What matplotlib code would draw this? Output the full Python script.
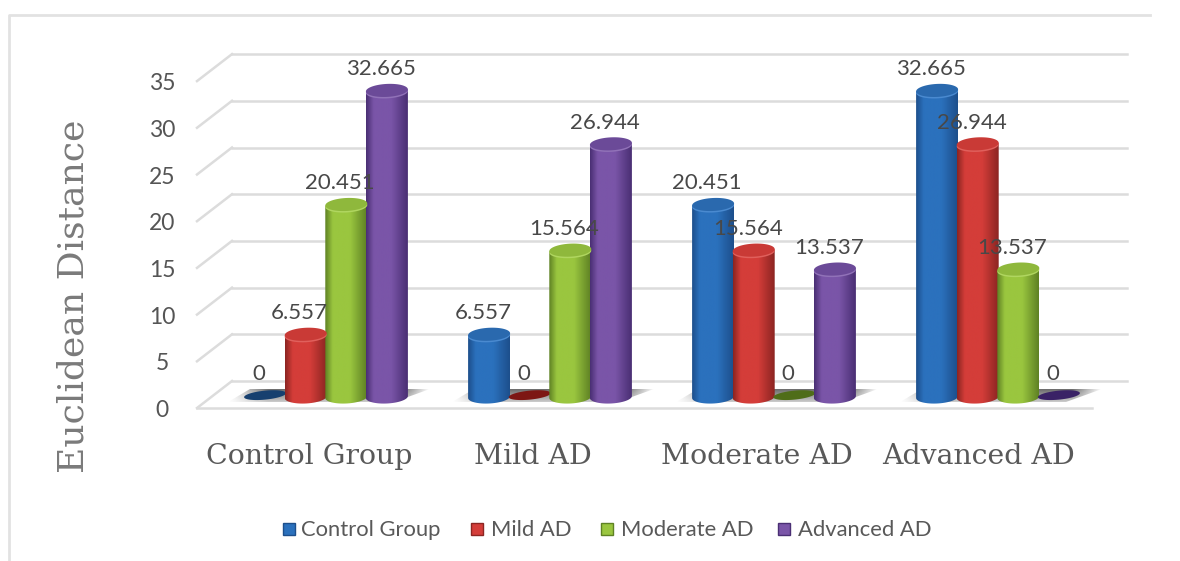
import numpy as np
import matplotlib
matplotlib.use('Agg')
from matplotlib import pyplot as plt
from matplotlib.colors import LinearSegmentedColormap
from matplotlib.patches import Polygon, Rectangle

categories = ['Control Group', 'Mild AD', 'Moderate AD', 'Advanced AD']
control_group = [0, 6.557, 20.451, 32.665]
mild_ad = [6.557, 0, 15.564, 26.944]
moderate_ad = [20.451, 15.564, 0, 13.537]
advanced_ad = [32.665, 26.944, 13.537, 0]
y_ticks = [0, 5, 10, 15, 20, 25, 30, 35]

W, H = 1180, 561
# one axes over the whole figure, 224 px per group and 9.34 px per unit
sx, sy = 224.0, 9.34
x0_px, y0_px = 326.0, 397.0
bar_w = 42 / sx
gap = 40.6 / sx

fig = plt.figure(figsize=(W / 100, H / 100), dpi=100)
ax = fig.add_axes([0, 0, 1, 1])
ax.axis('off')

def xp(px):
    return (px - x0_px) / sx

def yp(py):
    return (y0_px - py) / sy

grid = '#dcdcdc'
back = 16 / sy
front = -11 / sy
for t in y_ticks:
    ax.plot([xp(232), xp(1127)], [t + back, t + back], color=grid, lw=1.8, zorder=1)
    ax.plot([xp(197), xp(232)], [t + front, t + back], color=grid, lw=1.8, zorder=1)
    ax.text(xp(162), t + front - 2.5 / sy, str(t), ha='center', va='center', fontsize=16.5,
            family='Lato', color='#555555', zorder=6)
ax.plot([xp(197), xp(1092)], [front, front], color=grid, lw=1.8, zorder=1)

# outer chart border
ax.plot([xp(9), xp(9), xp(1150)], [yp(561), yp(15), yp(15)], color='#e2e2e2', lw=2, zorder=0)

# floor shadow behind each group, slanted like the back wall and fading at both ends
fade_v = np.linspace(0.35, 1, 32)
fade_h = np.clip(np.minimum(np.linspace(0, 5, 128), np.linspace(7, 0, 128)), 0, 1)
shadow = np.zeros((32, 128, 4))
shadow[..., :3] = 0.42
shadow[..., 3] = np.outer(fade_v, fade_h)
for g in range(len(categories)):
    sh = Polygon([(g - 98 / sx, -5 / sy), (g + 68 / sx, -5 / sy), (g + 104 / sx, 8 / sy),
                  (g - 76 / sx, 8 / sy)], transform=ax.transData, fc='none', ec='none')
    ax.add_patch(sh)
    im = ax.imshow(shadow, origin='lower', extent=[g - 98 / sx, g + 104 / sx, -5 / sy, 8 / sy],
                   aspect='auto', zorder=2, interpolation='bilinear')
    im.set_clip_path(sh)

series = [control_group, mild_ad, moderate_ad, advanced_ad]
# edge, mid, highlight rim, top face colours for each series
colors = [('#1d4f8c', '#2b71bd', '#4a8ad0', '#2a69ae'),
          ('#8c2522', '#d43d39', '#e0605c', '#c93a36'),
          ('#5f8224', '#9ac63f', '#b0d660', '#8fb83c'),
          ('#4a2f74', '#7a55a8', '#9172b8', '#6b4a98')]
zero_colors = ['#17406f', '#7d1714', '#4f6d19', '#3a2266']
ell_h = 13 / sy
tilt = 1.0 / sy

def ring(x, y, t):
    return x + bar_w / 2 * np.cos(t), y + ell_h / 2 * np.sin(t) + tilt * np.cos(t)

def draw_bar(x, v, cols, zero_col):
    t = np.linspace(0, 2 * np.pi, 60)
    if v == 0:
        ex = x + bar_w / 2 * np.cos(t)
        ey = 0.2 + 4.5 / sy * np.sin(t) + 2 / sy * np.cos(t)
        ax.fill(ex, ey, color=zero_col, lw=0, zorder=4)
        return
    low = np.linspace(np.pi, 2 * np.pi, 30)
    high = np.linspace(0, np.pi, 30)
    bx, by = ring(x, 0, low)
    tx, ty = ring(x, v, high)
    body = Polygon(np.column_stack([np.r_[bx, tx], np.r_[by, ty]]), transform=ax.transData,
                   fc='none', ec='none')
    ax.add_patch(body)
    cmap = LinearSegmentedColormap.from_list(
        'c', [(0, cols[0]), (0.18, cols[1]), (0.6, cols[1]), (1, cols[0])])
    im = ax.imshow(np.linspace(0, 1, 64).reshape(1, -1),
                   extent=[x - bar_w / 2, x + bar_w / 2, -ell_h, v + ell_h], cmap=cmap,
                   aspect='auto', zorder=4, interpolation='bilinear')
    im.set_clip_path(body)
    ex, ey = ring(x, v, t)
    ax.fill(ex, ey, color=cols[2], lw=0, zorder=5)
    ax.fill(ex, ey + 1.5 / sy, color=cols[3], lw=0, zorder=5)

for s, (vals, cols, zc) in enumerate(zip(series, colors, zero_colors)):
    for g, v in enumerate(vals):
        x = g + (s - 1.5) * gap
        draw_bar(x, v, cols, zc)
        ax.text(x - 6 / sx, v + 22.5 / sy, format(v, 'g'), ha='center', va='center',
                fontsize=16, family='Lato', color='#484848', zorder=7)

for g, name in enumerate(categories):
    ax.text(xp([309, 533, 757, 979][g]), yp(457), name, ha='center', va='center',
            fontsize=20.4, family='DejaVu Serif', color='#595959')

ax.text(xp(74), yp(296), 'Euclidean Distance', rotation=90, ha='center', va='center',
        fontsize=26, family='DejaVu Serif', color='#7a7a7a')

# legend
legend_x = [283, 471, 601, 778]
text_x = [301, 491, 621, 798]
for px, tx, name, cols in zip(legend_x, text_x, categories, colors):
    ax.add_patch(Rectangle((xp(px), yp(535)), 12 / sx, 12 / sy, fc=cols[1], ec=cols[0], lw=1, zorder=5))
    ax.text(xp(tx), yp(530), name, ha='left', va='center', fontsize=15.8,
            family='Lato', color='#595959')

ax.set_xlim(-x0_px / sx, (W - x0_px) / sx)
ax.set_ylim(-(H - y0_px) / sy, y0_px / sy)
fig.savefig('out.png', dpi=100)
